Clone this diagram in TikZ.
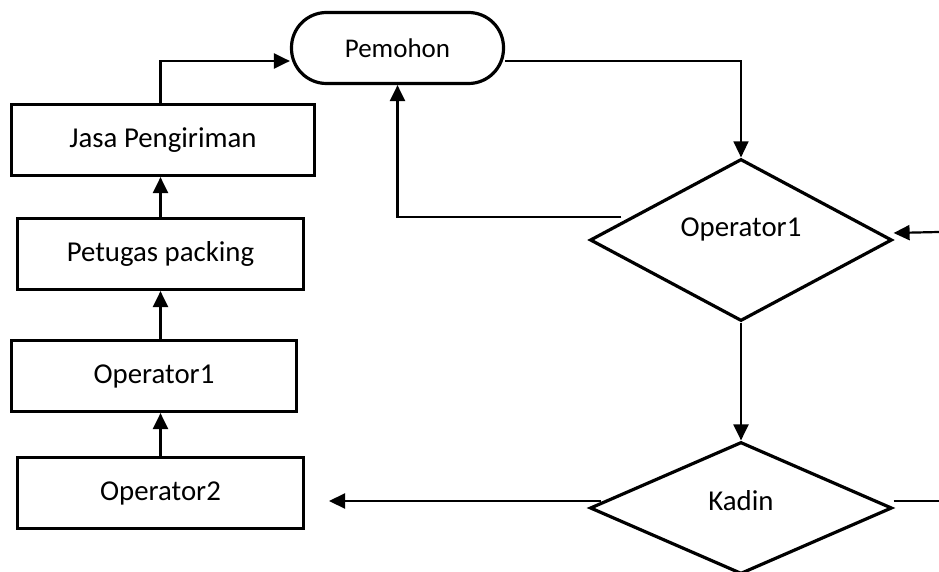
\documentclass[tikz,border=0pt]{standalone}
\usepackage{fontspec}
\setmainfont{Carlito}
\usetikzlibrary{shapes.geometric,arrows.meta}
\begin{document}
\begin{tikzpicture}[x=1pt, y=1pt,
  actor/.style={draw=black, line width=3.2pt, rectangle, minimum height=71pt, font=\fontsize{28.8}{32}\selectfont},
  start/.style={draw=black, line width=3.2pt, rectangle, rounded corners=35pt, minimum width=212pt, minimum height=71pt, font=\fontsize{27}{30}\selectfont},
  decide/.style={draw=black, line width=3.2pt, diamond, minimum width=302pt},
  conn/.style={black, line width=2.2pt},
  tip/.style={-{Triangle[length=16pt,width=15pt]}}]
\tikzstyle{every node}+=[inner sep=0pt]
\useasboundingbox (0,0) rectangle (939,-572);
\node [start] (pem) at (397.5,-48) {Pemohon};
\node [actor, minimum width=303pt] (jasa) at (163,-140) {Jasa Pengiriman};
\node [actor, minimum width=286pt] (pet) at (160.5,-254) {Petugas packing};
\node [actor, minimum width=285pt] (opa) at (154,-376) {Operator1};
\node [actor, minimum width=286pt] (opb) at (160.5,-493) {Operator2};
\node [decide, minimum height=162pt,
  label={[font=\fontsize{28.8}{32}\selectfont, yshift=11pt]center:Operator1}] (opd) at (741,-240) {};
\node [decide, minimum height=132pt,
  label={[font=\fontsize{28.8}{32}\selectfont, yshift=7pt]center:Kadin}] (kad) at (741,-508) {};
\coordinate (inR) at (939,-232);
\coordinate (outR) at (939,-501);
\coordinate (kadout) at (329,-501);
\draw [conn, tip] (pet.north |- jasa.north) |- ([yshift=-13pt]pem.west);
\draw [conn, tip] (pet.north) -- (pet.north |- jasa.south);
\draw [conn, tip] (opa.north -| pet.north) -- (pet.south);
\draw [conn, tip] (opb.north) -- (opb.north |- opa.south);
\draw [black, line width=1.5pt, tip] ([yshift=-13pt]pem.east) -| (opd.north);
\draw [conn, tip] ([xshift=33pt,yshift=23pt]opd.west) -| (pem.south);
\draw [conn, tip] (inR) -- ([yshift=7pt]opd.east);
\draw [conn, tip] (opd.south) -- (kad.north);
\draw [conn, tip] ([xshift=13pt,yshift=7pt]kad.west) -- (kadout);
\draw [conn] ([yshift=7pt]kad.east) -- (outR);
\end{tikzpicture}
\end{document}
